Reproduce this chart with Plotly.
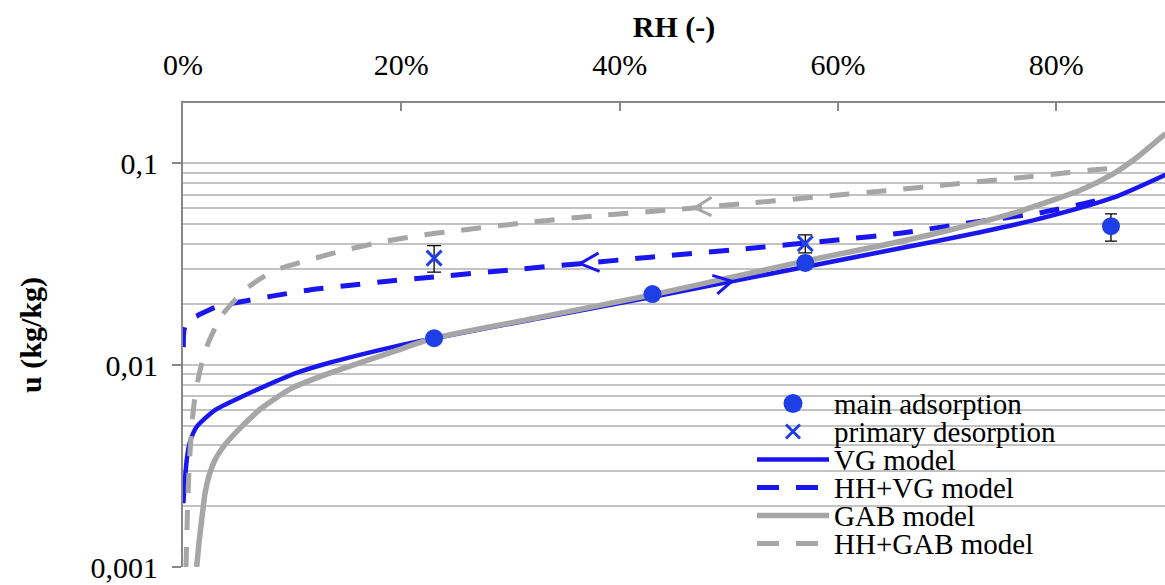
import math
import numpy as np
import plotly.graph_objects as go

# ---- axis ticks ----
rh_tick_vals = [0.0, 0.2, 0.4, 0.6, 0.8]
rh_tick_text = ["0%", "20%", "40%", "60%", "80%"]
u_tick_vals = [0.001, 0.01, 0.1]
u_tick_text = ["0,001", "0,01", "0,1"]
u_minor_grid = [0.002, 0.003, 0.004, 0.005, 0.006, 0.007, 0.008, 0.009,
                0.02, 0.03, 0.04, 0.05, 0.06, 0.07, 0.08, 0.09]

# ---- measurements ----
ads_rh = [0.23, 0.43, 0.57, 0.85]
ads_u = [0.0136, 0.0225, 0.0321, 0.0488]
ads_err_plus = [0.0006, 0.0008, 0.0010, 0.0073]
ads_err_minus = [0.0006, 0.0008, 0.0010, 0.0077]

des_rh = [0.23, 0.57]
des_u = [0.0339, 0.0400]
des_err_plus = [0.0052, 0.0042]
des_err_minus = [0.0050, 0.0040]

# ---- model curves ----
vg_rh = [0.0003, 0.0034, 0.0064, 0.0126, 0.0293, 0.0538, 0.0751, 0.1026, 0.1317,
         0.1927, 0.229, 0.3298, 0.4306, 0.5708, 0.6569, 0.7302, 0.7913, 0.852, 0.900]
vg_u = [0.00207, 0.00339, 0.00417, 0.00495, 0.00599, 0.00697, 0.00787, 0.0091,
        0.01019, 0.01232, 0.01356, 0.0172, 0.02183, 0.03073, 0.03794, 0.04553,
        0.05422, 0.06748, 0.08772]

hhvg_rh = [0.0003, 0.0009, 0.0046, 0.0140, 0.0293, 0.0476, 0.0813, 0.1148, 0.1514,
           0.1851, 0.2247, 0.3026, 0.3637, 0.4279, 0.5103, 0.6019, 0.6569, 0.7149,
           0.7485, 0.7852, 0.8188, 0.8401]
hhvg_u = [0.01228, 0.0149, 0.01669, 0.01767, 0.0193, 0.02034, 0.02196, 0.02351,
          0.02481, 0.02597, 0.02718, 0.02971, 0.03182, 0.03426, 0.03752, 0.04181,
          0.04502, 0.05017, 0.05323, 0.05688, 0.06194, 0.06594]

gab_rh = [0.0125, 0.0146, 0.0171, 0.0202, 0.0238, 0.0293, 0.0376, 0.0476, 0.0595,
          0.0721, 0.0996, 0.1317, 0.1927, 0.229, 0.3298, 0.4306, 0.4947, 0.5714,
          0.6386, 0.6997, 0.7607, 0.8218, 0.8523, 0.8704, 0.900]
gab_u = [0.001, 0.00131, 0.00171, 0.00232, 0.00283, 0.00339, 0.00398, 0.00459,
         0.00532, 0.00613, 0.00769, 0.00902, 0.01166, 0.01356, 0.01738, 0.02234,
         0.02665, 0.03292, 0.03904, 0.04633, 0.05656, 0.07351, 0.08892, 0.1035,
         0.1403]

hhgab_rh = [0.00275, 0.00412, 0.0055, 0.00779, 0.01054, 0.01374, 0.01741, 0.02199,
            0.0284, 0.03573, 0.04608, 0.05836, 0.07357, 0.08887, 0.1148, 0.1454,
            0.182, 0.2247, 0.2416, 0.3118, 0.379, 0.4492, 0.5221, 0.5928, 0.6386,
            0.6997, 0.773, 0.8096, 0.8371, 0.8566]
hhgab_u = [0.001, 0.001915, 0.00302, 0.004767, 0.006709, 0.008426, 0.01035, 0.01242,
           0.0149, 0.01768, 0.02058, 0.02397, 0.02736, 0.03011, 0.0331, 0.0368,
           0.04077, 0.04452, 0.04569, 0.05063, 0.05496, 0.05886, 0.06371, 0.06906,
           0.07268, 0.07825, 0.08553, 0.08975, 0.09307, 0.0945]

legend_names = ["main adsorption", "primary desorption", "VG model",
                "HH+VG model", "GAB model", "HH+GAB model"]

# ---- styling ----
FONT = "Liberation Serif"
BLUE = "#1a16f0"
MARK_BLUE = "#1f3fe6"
GRAY = "#a6a6a6"
GRID = "#c3c3c3"
AXIS = "#888888"
DASH = "20px,17px"

fig = go.Figure()

fig.add_trace(go.Scatter(x=vg_rh, y=vg_u, mode="lines", name="VG model",
                         line=dict(color=BLUE, width=4.5, shape="spline", smoothing=0.6)))
fig.add_trace(go.Scatter(x=hhvg_rh, y=hhvg_u, mode="lines", name="HH+VG model",
                         line=dict(color=BLUE, width=5, dash=DASH, shape="spline", smoothing=0.6)))
fig.add_trace(go.Scatter(x=gab_rh, y=gab_u, mode="lines", name="GAB model",
                         line=dict(color=GRAY, width=5.5, shape="spline", smoothing=0.6)))
fig.add_trace(go.Scatter(x=hhgab_rh, y=hhgab_u, mode="lines", name="HH+GAB model",
                         line=dict(color=GRAY, width=5, dash=DASH, shape="spline", smoothing=0.6)))

fig.add_trace(go.Scatter(
    x=ads_rh, y=ads_u, mode="markers", name="main adsorption",
    marker=dict(symbol="circle", size=18, color=MARK_BLUE),
    error_y=dict(type="data", symmetric=False, array=ads_err_plus,
                 arrayminus=ads_err_minus, color="black", thickness=1.3, width=6)))
fig.add_trace(go.Scatter(
    x=des_rh, y=des_u, mode="markers", name="primary desorption",
    marker=dict(symbol="x-thin", size=15, color=MARK_BLUE,
                line=dict(width=3, color=MARK_BLUE)),
    error_y=dict(type="data", symmetric=False, array=des_err_plus,
                 arrayminus=des_err_minus, color="black", thickness=1.3, width=7)))

for tr in fig.data:
    tr.showlegend = False


# ---- direction arrows (open chevrons) sitting on the curves ----
def on_curve(xs, ys, x):
    return 10 ** np.interp(x, xs, np.log10(ys))


arrows = [
    # (curve rh, curve u, tip rh, colour, arm offsets in px)
    (hhgab_rh, hhgab_u, 0.469, GRAY, [(17, -11), (17, 8)]),
    (hhvg_rh, hhvg_u, 0.3637, BLUE, [(19, -11), (20, 8)]),
    (vg_rh, vg_u, 0.5027, BLUE, [(-20, -6), (-15, 13)]),
]
annotations = []
for xs, ys, tip, col, arms in arrows:
    tip_u = on_curve(xs, ys, tip)
    for ax, ay in arms:
        annotations.append(dict(
            x=tip, y=math.log10(tip_u), xref="x", yref="y", text="",
            font=dict(size=1), borderpad=0,
            showarrow=True, arrowhead=0, arrowwidth=3, arrowcolor=col,
            ax=ax, ay=ay, standoff=0, startstandoff=0))

# ---- legend drawn inside the plot area ----
X0, W = 183, 982
Y0, H = 567, 464


def px(xp):
    return (xp - X0) / W


def py(yp):
    return (Y0 - yp) / H


rows = [403.5, 431.5, 459.5, 487.5, 515.5, 543.5]
shapes = []
# circle key
shapes.append(dict(type="circle", xref="paper", yref="paper",
                   xsizemode="pixel", ysizemode="pixel",
                   xanchor=px(793), yanchor=py(rows[0]),
                   x0=-9.5, x1=9.5, y0=-9.5, y1=9.5,
                   fillcolor=MARK_BLUE, line=dict(width=0)))
# x key
for a, b in [(-7, 7), (7, -7)]:
    shapes.append(dict(type="line", xref="paper", yref="paper",
                       xsizemode="pixel", ysizemode="pixel",
                       xanchor=px(793), yanchor=py(rows[1]),
                       x0=-7, x1=7, y0=a, y1=b,
                       line=dict(color=MARK_BLUE, width=3)))
# line keys
line_keys = [(BLUE, 4.5, "solid"), (BLUE, 5, "22px,17px"),
             (GRAY, 5.5, "solid"), (GRAY, 5, "22px,17px")]
for (col, w, d), r in zip(line_keys, rows[2:]):
    shapes.append(dict(type="line", xref="paper", yref="paper",
                       x0=px(757), x1=px(829), y0=py(r), y1=py(r),
                       line=dict(color=col, width=w, dash=d)))
for name, r in zip(legend_names, rows):
    annotations.append(dict(
        x=px(832), y=py(r), xref="paper", yref="paper", text=name,
        showarrow=False, xanchor="left", yanchor="middle",
        font=dict(family=FONT, size=29, color="black")))

fig.update_layout(
    width=1165, height=585,
    margin=dict(l=183, r=0, t=103, b=18),
    paper_bgcolor="white", plot_bgcolor="white",
    font=dict(family=FONT, size=30, color="black"),
    showlegend=False,
    shapes=shapes,
    annotations=annotations,
)

fig.update_xaxes(
    side="top", range=[0, 0.8995],
    tickmode="array", tickvals=rh_tick_vals, ticktext=rh_tick_text,
    ticks="inside", ticklen=8, tickwidth=1.5, tickcolor=AXIS,
    showline=True, linecolor=AXIS, linewidth=2,
    showgrid=False, zeroline=False, ticklabelstandoff=14,
    tickfont=dict(family=FONT, size=30, color="black"),
    title=dict(text="<b>RH (-)</b>", font=dict(family=FONT, size=30, color="black"), standoff=2),
)
fig.update_yaxes(
    type="log", range=[-3, -0.7015],
    tickmode="array", tickvals=u_tick_vals, ticktext=u_tick_text,
    ticks="outside", ticklen=9, tickwidth=1.5, tickcolor=AXIS,
    showline=True, linecolor=AXIS, linewidth=2,
    showgrid=True, gridcolor=GRID, gridwidth=1.5, zeroline=False,
    ticklabelstandoff=8,
    minor=dict(tickmode="array", tickvals=u_minor_grid, showgrid=True,
               gridcolor=GRID, gridwidth=1.5, ticks=""),
    tickfont=dict(family=FONT, size=30, color="black"),
    title=dict(text="<b>u (kg/kg)</b>", font=dict(family=FONT, size=30, color="black"), standoff=40),
)

fig.write_html("out.html")
